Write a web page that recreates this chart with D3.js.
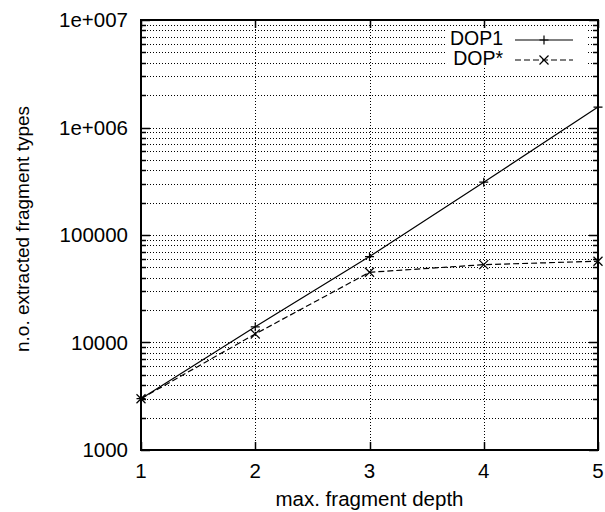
<!DOCTYPE html>
<html>
<head>
<meta charset="utf-8">
<script src="https://cdn.jsdelivr.net/npm/d3@7"></script>
<style>
  body { margin: 0; background: #fff; }
  text { font-family: "Liberation Sans", Arial, sans-serif; fill: #000; }
</style>
</head>
<body>
<div id="chart"></div>
<script>
// values
var depths = [1, 2, 3, 4, 5];
var dop1 = [3000, 14000, 63000, 310000, 1550000];
var dopStar = [3000, 12000, 45000, 53000, 57000];
var yTickLabels = ["1000", "10000", "100000", "1e+006", "1e+007"];
var seriesNames = ["DOP1", "DOP*"];

var width = 605, height = 512;
var plotLeft = 141, plotRight = 598, plotTop = 20, plotBottom = 450;

var svg = d3.select("#chart").append("svg")
  .attr("width", width)
  .attr("height", height);

var x = d3.scaleLinear().domain([1, 5]).range([plotLeft, plotRight]);
var y = d3.scaleLog().domain([1000, 1e7]).range([plotBottom, plotTop]);

var allTicks = y.ticks();
var isMajor = function(v) {
  var l = Math.log10(v);
  return Math.abs(l - Math.round(l)) < 1e-9;
};

// grid
var grid = svg.append("g")
  .attr("stroke", "#000")
  .attr("stroke-width", 1)
  .attr("stroke-dasharray", "1,2");
grid.selectAll("line.h")
  .data(allTicks.filter(function(v) { return v > 1000 && v < 1e7; }))
  .enter().append("line")
  .attr("x1", plotLeft).attr("x2", plotRight)
  .attr("y1", function(d) { return Math.round(y(d)) + 0.5; })
  .attr("y2", function(d) { return Math.round(y(d)) + 0.5; });
grid.selectAll("line.v")
  .data(depths.filter(function(d) { return d > 1 && d < 5; }))
  .enter().append("line")
  .attr("y1", plotTop).attr("y2", plotBottom)
  .attr("x1", function(d) { return Math.round(x(d)) + 0.5; })
  .attr("x2", function(d) { return Math.round(x(d)) + 0.5; });

// legend box (opaque)
svg.append("rect")
  .attr("x", 447).attr("y", 27)
  .attr("width", 141).attr("height", 41)
  .attr("fill", "#fff");

// ticks
var ticks = svg.append("g").attr("stroke", "#000").attr("stroke-width", 1.5);
allTicks.forEach(function(v) {
  var len = isMajor(v) ? 9 : 5;
  var yy = Math.round(y(v)) + 0.5;
  ticks.append("line").attr("x1", plotLeft).attr("x2", plotLeft + len).attr("y1", yy).attr("y2", yy);
  ticks.append("line").attr("x1", plotRight).attr("x2", plotRight - len).attr("y1", yy).attr("y2", yy);
});
depths.forEach(function(d) {
  var xx = Math.round(x(d)) + 0.5;
  ticks.append("line").attr("x1", xx).attr("x2", xx).attr("y1", plotBottom).attr("y2", plotBottom - 8);
  ticks.append("line").attr("x1", xx).attr("x2", xx).attr("y1", plotTop).attr("y2", plotTop + 8);
});

// frame
svg.append("rect")
  .attr("x", plotLeft).attr("y", plotTop)
  .attr("width", plotRight - plotLeft).attr("height", plotBottom - plotTop)
  .attr("fill", "none")
  .attr("stroke", "#000")
  .attr("stroke-width", 2);

// tick labels
var majors = allTicks.filter(isMajor);
svg.selectAll("text.ylab")
  .data(majors)
  .enter().append("text")
  .attr("x", 128)
  .attr("y", function(d) { return y(d); })
  .attr("dy", "0.36em")
  .attr("text-anchor", "end")
  .style("font-size", "20.5px")
  .text(function(d, i) { return yTickLabels[i]; });
svg.selectAll("text.xlab")
  .data(depths)
  .enter().append("text")
  .attr("x", function(d) { return x(d); })
  .attr("y", 478)
  .attr("text-anchor", "middle")
  .style("font-size", "20.5px")
  .text(function(d) { return d; });

// axis titles
svg.append("text")
  .attr("x", (plotLeft + plotRight) / 2)
  .attr("y", 506)
  .attr("text-anchor", "middle")
  .style("font-size", "20.5px")
  .text("max. fragment depth");
svg.append("text")
  .attr("transform", "translate(29,229) rotate(-90)")
  .attr("text-anchor", "middle")
  .style("font-size", "19px")
  .text("n.o. extracted fragment types");

// series
var line = d3.line()
  .x(function(d) { return x(d[0]); })
  .y(function(d) { return y(d[1]); });
var plus = function(g, cx, cy) {
  g.append("path")
    .attr("d", "M" + (cx - 4.5) + "," + cy + "H" + (cx + 4.5) + "M" + cx + "," + (cy - 4.5) + "V" + (cy + 4.5))
    .attr("stroke", "#000").attr("stroke-width", 1.2).attr("fill", "none");
};
var cross = function(g, cx, cy) {
  g.append("path")
    .attr("d", "M" + (cx - 4.5) + "," + (cy - 4.5) + "L" + (cx + 4.5) + "," + (cy + 4.5) +
      "M" + (cx - 4.5) + "," + (cy + 4.5) + "L" + (cx + 4.5) + "," + (cy - 4.5))
    .attr("stroke", "#000").attr("stroke-width", 1.2).attr("fill", "none");
};

var s1 = svg.append("g");
s1.append("path")
  .datum(d3.zip(depths, dop1))
  .attr("d", line)
  .attr("fill", "none").attr("stroke", "#000").attr("stroke-width", 1.2);
d3.zip(depths, dop1).forEach(function(p) { plus(s1, x(p[0]), y(p[1])); });

var s2 = svg.append("g");
s2.append("path")
  .datum(d3.zip(depths, dopStar))
  .attr("d", line)
  .attr("fill", "none").attr("stroke", "#000").attr("stroke-width", 1.2)
  .attr("stroke-dasharray", "6,3");
d3.zip(depths, dopStar).forEach(function(p) { cross(s2, x(p[0]), y(p[1])); });

// legend
var legendRows = [
  { name: seriesNames[0], y: 40, dash: null, mark: plus },
  { name: seriesNames[1], y: 60, dash: "6,3", mark: cross }
];
legendRows.forEach(function(r) {
  svg.append("text")
    .attr("x", 503).attr("y", r.y + 5)
    .attr("text-anchor", "end")
    .style("font-size", "19.5px")
    .text(r.name);
  svg.append("line")
    .attr("x1", 515).attr("x2", 573)
    .attr("y1", r.y).attr("y2", r.y)
    .attr("stroke", "#000").attr("stroke-width", 1.2)
    .attr("stroke-dasharray", r.dash);
  r.mark(svg, 544, r.y);
});
</script>
</body>
</html>
